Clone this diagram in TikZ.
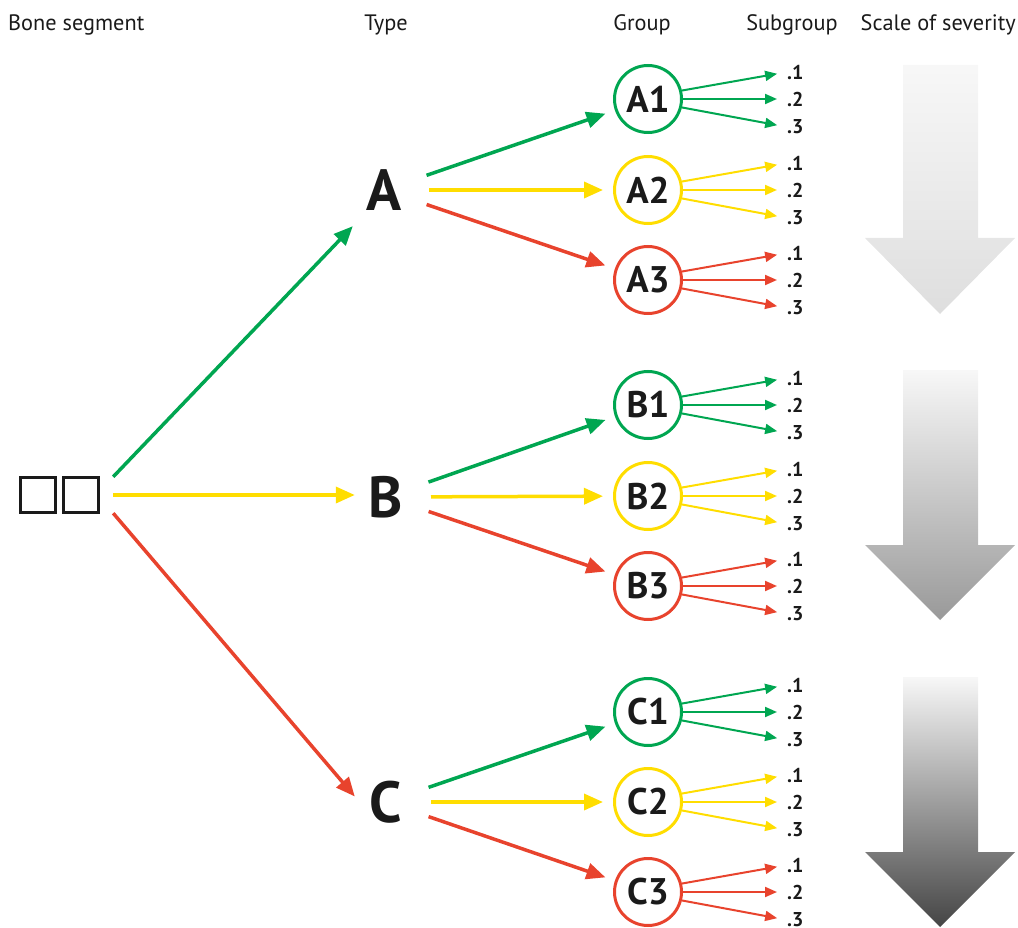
\documentclass[tikz,border=0pt]{standalone}
\usepackage{fontspec}
\setmainfont{PT Sans}
\usetikzlibrary{arrows.meta,calc}
\definecolor{cg}{HTML}{00A651}
\definecolor{cy}{HTML}{FFDD00}
\definecolor{cr}{HTML}{E8432D}
\definecolor{ink}{HTML}{1A1A1A}
\tikzset{
  hdr/.style={font=\fontsize{22.3pt}{26pt}\selectfont, text=ink, inner sep=0pt, anchor=base},
  typ/.style={font=\bfseries\fontsize{58pt}{62pt}\selectfont, text=ink, minimum width=62pt, minimum height=72pt, inner sep=0pt},
  grp/.style={circle, draw=#1, fill=white, line width=3pt, minimum size=67pt, inner sep=0pt, font=\bfseries\fontsize{37pt}{40pt}\selectfont, text=ink},
  sublab/.style={font=\bfseries\fontsize{20pt}{22pt}\selectfont, text=ink, inner sep=0pt, anchor=west},
  mainarr/.style={draw=#1, line width=3.5pt, -{Triangle[length=19pt,width=16pt]}},
  subarr/.style={draw=#1, line width=2pt, -{Triangle[length=12pt,width=10pt]}},
  sqbox/.style={draw=ink, line width=3pt, minimum size=35pt, inner sep=0pt},
  segbox/.style={minimum width=95pt, minimum height=36pt, inner sep=0pt},
}
\begin{document}
\begin{tikzpicture}[x=1pt,y=-1pt]
\useasboundingbox (0,0) rectangle (1018,928);
% headers
\node[hdr, anchor=base west] (h1) at (8,31) {Bone segment};
\node[hdr] (h2) at (386,31) {Type};
\node[hdr] (h3) at (642,31) {Group};
\node[hdr] (h4) at (792,31) {Subgroup};
\node[hdr, anchor=base east] (h5) at (1016,31) {Scale of severity};
% severity arrows
\shade[top color=white!97!black, bottom color=white!87!black]
  (903,65) -- (978,65) -- (978,238) -- (1015,238) -- (940,314) -- (865,238) -- (903,238) -- cycle;
\shade[top color=white!97!black, bottom color=white!60!black]
  (903,370) -- (978,370) -- (978,545) -- (1015,545) -- (940,620) -- (865,545) -- (903,545) -- cycle;
\shade[top color=white!97!black, bottom color=white!27!black]
  (903,677) -- (978,677) -- (978,852) -- (1015,852) -- (940,927) -- (865,852) -- (903,852) -- cycle;
% bone segment
\node[sqbox] (sq1) at (37.5,494.5) {};
\node[sqbox] (sq2) at (81,494.5) {};
\node[segbox] (seg) at (65.5,495) {};
% types
\node[typ] (A) at (384,190) {A};
\node[typ] (B) at (386,497) {B};
\node[typ] (C) at (386,802) {C};
\draw[mainarr=cg] (seg.north east) -- (A.south west);
\draw[mainarr=cy] (seg.east) -- (seg.east -| B.west);
\draw[mainarr=cr] (seg.south east) -- (C.170);
% groups
\foreach \t/\ya/\yb/\yc in {A/99/190/280, B/405/496/586, C/712/802/892}{
  \node[grp=cg] (\t1) at (648,\ya) {\t1};
  \node[grp=cy] (\t2) at (648,\yb) {\t2};
  \node[grp=cr] (\t3) at (648,\yc) {\t3};
  \foreach \g/\col in {1/cg, 2/cy, 3/cr}{
    \draw[mainarr=\col, shorten >=10pt] ($(\t)!45pt!(\t\g)$) -- (\t\g);
    \node[sublab] (\t\g s1) at ($(\t\g)+(139,-27)$) {.1};
    \node[sublab] (\t\g s2) at ($(\t\g)+(139,0)$) {.2};
    \node[sublab] (\t\g s3) at ($(\t\g)+(139,28)$) {.3};
    \draw[subarr=\col, shorten >=10pt] (\t\g.14) -- (\t\g s1.west);
    \draw[subarr=\col, shorten >=10pt] (\t\g.east) -- (\t\g s2.west);
    \draw[subarr=\col, shorten >=10pt] (\t\g.-14) -- (\t\g s3.west);
  }
}
\end{tikzpicture}
\end{document}
